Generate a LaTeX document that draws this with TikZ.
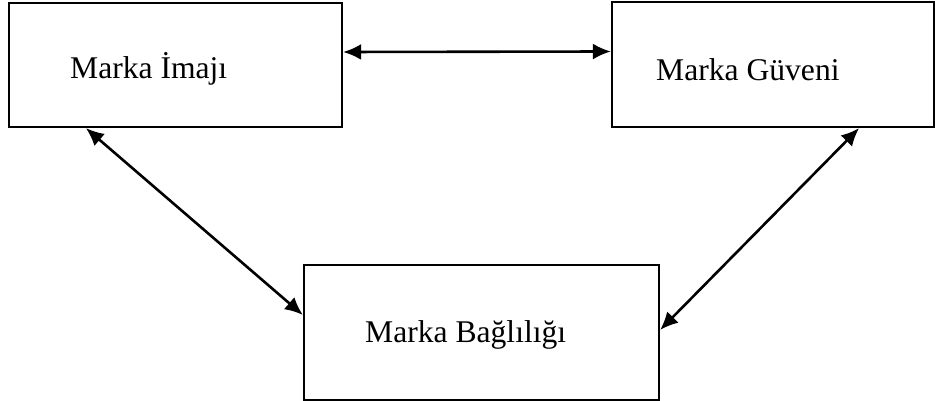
\documentclass[tikz,border=0pt]{standalone}
\usepackage{fontspec}
\setmainfont{Liberation Serif}
\usetikzlibrary{arrows.meta}
\usetikzlibrary{positioning}
\tikzset{x=1pt, y=1pt,
box/.style={ % Sets the properties for each box
draw,
line width=2.2pt,
rectangle,
inner sep=0pt},
boxtext/.style={ % Text sits on its baseline, left of centre
anchor=base west,
inner sep=0pt,
font=\fontsize{31.6}{36}\selectfont},
link/.style={ % Sets the properties for each two-way arrow
draw,
line width=2.6pt,
{Latex[length=18pt,width=16pt]}-{Latex[length=18pt,width=16pt]}}}

\begin{document}
\begin{tikzpicture}
\useasboundingbox (0,0) rectangle (935,401);
\node[box, minimum width=333pt, minimum height=124pt] (imaj) at (175.5,336) {};
\node[box, minimum width=322pt, minimum height=125pt] (guven) at (773,336.5) {};
\node[box, minimum width=355pt, minimum height=135pt] (baglilik) at (481.5,68.5) {};
\node[boxtext] (imajtext) at (70,322) {Marka İmajı};
\node[boxtext] (guventext) at (656,320) {Marka Güveni};
\node[boxtext] (baglilitext) at (365,58) {Marka Bağlılığı};
\draw[link] ([yshift=13pt]imaj.east) -- ([yshift=13pt]guven.west);
\draw[link] ([xshift=78pt]imaj.south west) -- ([yshift=17.5pt]baglilik.west);
\draw[link] ([xshift=-76pt]guven.south east) -- ([yshift=2.5pt]baglilik.east);
\end{tikzpicture}
\end{document}
